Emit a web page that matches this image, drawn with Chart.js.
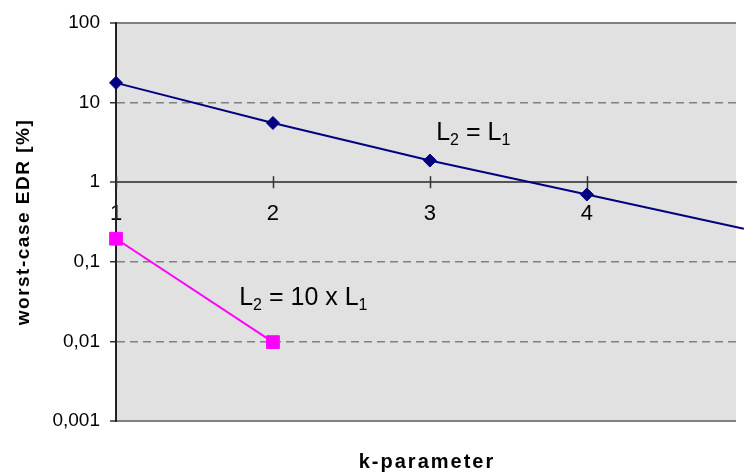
<!DOCTYPE html>
<html>
<head>
<meta charset="utf-8">
<title>worst-case EDR</title>
<script src="https://cdn.jsdelivr.net/npm/chart.js@4/dist/chart.umd.min.js"></script>
<style>
  html, body { margin: 0; padding: 0; background: #fff; }
  #wrap { width: 746px; height: 472px; position: relative; }
</style>
</head>
<body>
<div id="wrap"><canvas id="edrChart"></canvas></div>
<script>
// k-parameter values
var kValues = [1, 2, 3, 4, 5];
// worst-case EDR [%] with L2 = L1 (the k = 5 point sits just past the right edge)
var edrSameLength = [17.7, 5.55, 1.87, 0.70, 0.26];
var kValuesLong = [1, 2];
// worst-case EDR [%] with L2 = 10 x L1
var edrTenfold = [0.195, 0.0098];

var xTicks = [1, 2, 3, 4];
var yTicks = [0.001, 0.01, 0.1, 1, 10, 100];
var yTickLabels = ['0,001', '0,01', '0,1', '1', '10', '100'];
var dashedTicks = [0.01, 0.1, 10];

var FONT = '"Liberation Sans", Arial, sans-serif';

function toPoints(xs, ys) {
    return xs.map(function(x, i) { return {x: x, y: ys[i]}; });
}

// text runs with subscripts, e.g. L2 = L1
function drawSubText(ctx, parts, x, y) {
    parts.forEach(function(p) {
        ctx.font = (p.sub ? 16 : 25) + 'px ' + FONT;
        ctx.fillText(p.t, x, y + (p.sub ? 5 : 0));
        x += ctx.measureText(p.t).width;
    });
}

var plotBackground = {
    id: 'plotBackground',
    beforeDraw: function(chart) {
        var a = chart.chartArea, ctx = chart.ctx;
        ctx.save();
        ctx.fillStyle = '#e1e1e1';
        ctx.fillRect(a.left, a.top, a.right - a.left, a.bottom - a.top);
        ctx.restore();
    }
};

// tick marks crossing the x axis, which sits at y = 1
var crossTicks = {
    id: 'crossTicks',
    beforeDatasetsDraw: function(chart) {
        var ctx = chart.ctx, xs = chart.scales.x, ys = chart.scales.y;
        var y0 = ys.getPixelForValue(1);
        ctx.save();
        ctx.strokeStyle = '#333';
        ctx.lineWidth = 1.5;
        xTicks.forEach(function(v) {
            var px = Math.round(xs.getPixelForValue(v)) + 0.5;
            ctx.beginPath();
            ctx.moveTo(px, y0 - 6);
            ctx.lineTo(px, y0 + 6);
            ctx.stroke();
        });
        ctx.restore();
    }
};

var labels = {
    id: 'labels',
    afterDraw: function(chart) {
        var ctx = chart.ctx, a = chart.chartArea;
        var xs = chart.scales.x, ys = chart.scales.y;
        ctx.save();
        ctx.fillStyle = '#000';
        ctx.textBaseline = 'alphabetic';
        ctx.textAlign = 'left';

        drawSubText(ctx, [{t: 'L'}, {t: '2', sub: true}, {t: ' = L'}, {t: '1', sub: true}],
            xs.getPixelForValue(3.04), ys.getPixelForValue(3.37));
        drawSubText(ctx, [{t: 'L'}, {t: '2', sub: true}, {t: ' = 10 x L'}, {t: '1', sub: true}],
            xs.getPixelForValue(1.785), ys.getPixelForValue(0.0284));

        // axis titles
        ctx.textAlign = 'center';
        ctx.font = 'bold 20px ' + FONT;
        ctx.letterSpacing = '2px';
        ctx.fillText('k-parameter', (a.left + a.right) / 2 + 1, 468);

        ctx.translate(29, (a.top + a.bottom) / 2);
        ctx.rotate(-Math.PI / 2);
        ctx.font = 'bold 19px ' + FONT;
        ctx.letterSpacing = '1.5px';
        ctx.fillText('worst-case EDR [%]', 0, 0);
        ctx.restore();
    }
};

var ctx = document.getElementById('edrChart').getContext('2d');

var edrChart = new Chart(ctx, {
    type: 'line',
    data: {
        datasets: [{
            label: 'L2 = L1',
            data: toPoints(kValues, edrSameLength),
            borderColor: '#000080',
            backgroundColor: '#000080',
            borderWidth: 2,
            pointStyle: 'rectRot',
            pointRadius: [6.5, 6.5, 6.5, 6.5, 0],
            pointBorderWidth: 1,
            tension: 0,
            clip: false
        },
        {
            label: 'L2 = 10 x L1',
            data: toPoints(kValuesLong, edrTenfold),
            borderColor: '#ff00ff',
            backgroundColor: '#ff00ff',
            borderWidth: 2,
            pointStyle: 'rect',
            pointRadius: 9,
            pointBorderWidth: 1,
            tension: 0,
            clip: false
        }]
    },
    options: {
        responsive: true,
        maintainAspectRatio: false,
        animation: false,
        events: [],
        layout: {
            padding: {left: 0, right: 0, top: 23, bottom: 51}
        },
        plugins: {
            legend: {display: false},
            tooltip: {enabled: false}
        },
        scales: {
            x: {
                type: 'linear',
                position: {y: 1},
                min: 1,
                max: 4.95,
                afterBuildTicks: function(s) {
                    s.ticks = xTicks.map(function(v) { return {value: v}; });
                },
                grid: {display: false, drawTicks: false},
                border: {display: true, color: '#555', width: 2},
                ticks: {
                    padding: 19,
                    color: '#000',
                    font: {family: FONT, size: 22},
                    autoSkip: false,
                    callback: function(v) { return String(v); }
                }
            },
            y: {
                type: 'logarithmic',
                min: 0.001,
                max: 100,
                afterBuildTicks: function(s) {
                    s.ticks = yTicks.map(function(v) { return {value: v}; });
                },
                afterFit: function(s) { s.width = 116; },
                grid: {
                    color: function(c) {
                        if (c.tick && c.tick.value === 1) return '#555';
                        return '#808080';
                    },
                    lineWidth: function(c) {
                        if (c.tick && dashedTicks.indexOf(c.tick.value) >= 0) return 1.5;
                        return 2;
                    },
                    tickLength: 6,
                    tickColor: '#333',
                    tickWidth: 1.5,
                    tickBorderDash: []
                },
                border: {
                    display: true,
                    color: '#222',
                    width: 2,
                    dash: function(c) {
                        if (c.tick && dashedTicks.indexOf(c.tick.value) >= 0) return [8, 5];
                        return [];
                    }
                },
                ticks: {
                    padding: 10,
                    color: '#000',
                    autoSkip: false,
                    font: {family: FONT, size: 19},
                    callback: function(v, i) { return yTickLabels[i]; }
                }
            }
        }
    },
    plugins: [plotBackground, crossTicks, labels]
});
</script>
</body>
</html>
